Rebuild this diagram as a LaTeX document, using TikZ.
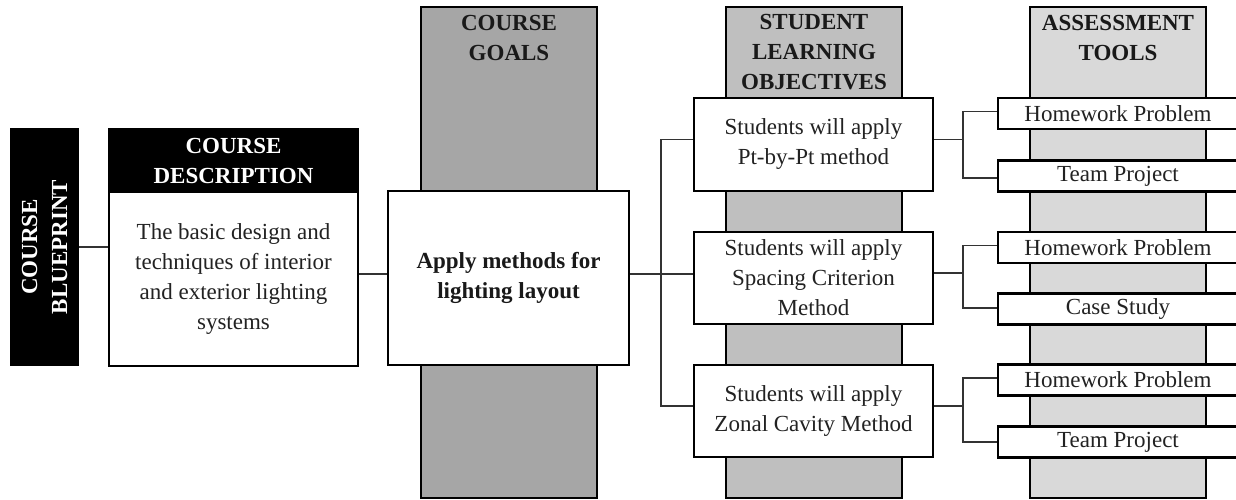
\documentclass[tikz,border=0pt]{standalone}
\usepackage{fontspec}
\setmainfont{Liberation Serif}
\definecolor{goalgray}{HTML}{A6A6A6}
\definecolor{slogray}{HTML}{BFBFBF}
\definecolor{atgray}{HTML}{D9D9D9}
\definecolor{txt}{HTML}{222222}
\definecolor{conn}{HTML}{333333}
\tikzset{
  base/.style={font=\fontsize{23}{30}\selectfont, text=txt, align=center, inner sep=0pt},
  col/.style={draw=black, line width=2pt, minimum width=176, minimum height=491, inner sep=0pt},
  wbox/.style={base, draw=black, fill=white, line width=2.4pt},
  blk/.style={base, draw=black, fill=black, line width=2pt, text=white, font=\fontsize{23}{30}\selectfont\bfseries},
  head/.style={base, font=\fontsize{23}{30}\selectfont\bfseries, text=black!90},
  atbox/.style={wbox, minimum width=240, minimum height=31},
  slobox/.style={wbox, minimum width=239, minimum height=92},
  link/.style={draw=conn, line width=1.3pt},
}
\begin{document}
\begin{tikzpicture}[x=1pt, y=-1pt]
\useasboundingbox (0,0) rectangle (1236,500);
% columns
\node[col, fill=goalgray] (goalcol) at (509,252.5) {};
\node[col, fill=slogray] (slocol) at (814,252.5) {};
\node[col, fill=atgray] (atcol) at (1118,252.5) {};
\node[head] (goalhead) at (509,38) {COURSE\\GOALS};
\node[head] (slohead) at (814,52) {STUDENT\\LEARNING\\OBJECTIVES};
\node[head] (athead) at (1118,38) {ASSESSMENT\\TOOLS};
% left
\node[blk, minimum width=236, minimum height=67, rotate=90] (bp) at (44.5,247) {COURSE\\BLUEPRINT};
\node[blk, minimum width=249, minimum height=63] (deschead) at (233.5,160.5) {COURSE\\DESCRIPTION};
\node[wbox, minimum width=249, minimum height=174] (descbody) at (233.5,279) {The basic design and\\techniques of interior\\and exterior lighting\\systems};
\node[wbox, minimum width=241, minimum height=174, font=\fontsize{23}{30}\selectfont\bfseries, text=black!90] (goal) at (508.5,278) {Apply methods for\\lighting layout};
% SLO boxes
\node[slobox, minimum height=93] (slo1) at (813.5,144.5) {Students will apply\\Pt-by-Pt method};
\node[slobox] (slo2) at (813.5,278) {Students will apply\\Spacing Criterion\\Method};
\node[slobox] (slo3) at (813.5,411) {Students will apply\\Zonal Cavity Method};
% AT boxes
\node[atbox] (h1) at (1118,113.5) {Homework Problem};
\node[atbox] (t1) at (1118,176) {Team Project};
\node[atbox] (h2) at (1118,247.5) {Homework Problem};
\node[atbox] (c2) at (1118,309) {Case Study};
\node[atbox] (h3) at (1118,380) {Homework Problem};
\node[atbox] (t3) at (1118,442) {Team Project};
% connectors
\draw[link] (bp.south) -- (bp.south -| descbody.west);
\draw[link] ([yshift=5pt]descbody.east) -- ([yshift=5pt]descbody.east -| goal.west);
\coordinate (tr) at (661,274);
\draw[link] ([yshift=4pt]goal.east) -- ([yshift=4pt]goal.east -| slo2.west);
\draw[link] ([yshift=5pt]slo1.west) -| (tr) |- ([yshift=5pt]slo3.west);
\coordinate (b1) at (963,144);
\coordinate (b2) at (963,278);
\coordinate (b3) at (963,411);
\draw[link] ([yshift=5pt]slo1.east) -- ([yshift=5pt]slo1.east -| b1);
\draw[link] ([yshift=2pt]h1.west) -| (b1) |- ([yshift=-2pt]t1.west);
\draw[link] ([yshift=5pt]slo2.east) -- ([yshift=5pt]slo2.east -| b2);
\draw[link] ([yshift=2pt]h2.west) -| (b2) |- ([yshift=1pt]c2.west);
\draw[link] ([yshift=5pt]slo3.east) -- ([yshift=5pt]slo3.east -| b3);
\draw[link] ([yshift=2pt]h3.west) -| (b3) |- ([yshift=0pt]t3.west);
\end{tikzpicture}
\end{document}
